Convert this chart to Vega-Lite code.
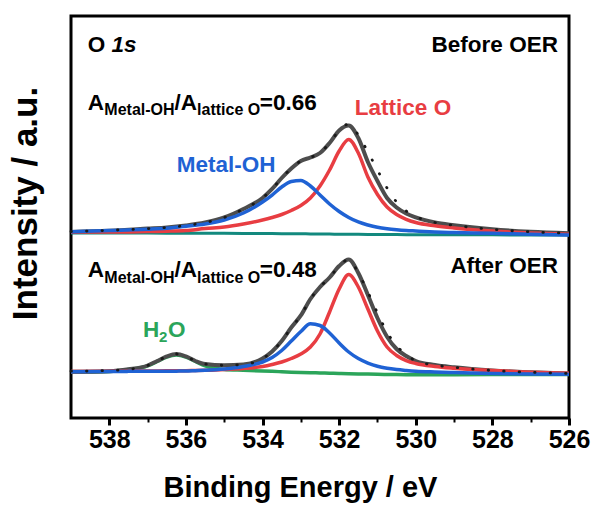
{
  "$schema": "https://vega.github.io/schema/vega-lite/v6.json",
  "width": 498,
  "height": 402,
  "autosize": {"type": "none"},
  "padding": {"left": 71, "top": 16, "right": 24, "bottom": 91},
  "background": "white",
  "config": {
    "font": "Liberation Sans",
    "view": {"stroke": "black", "strokeWidth": 3},
    "axis": {"grid": false},
    "axisX": {
      "domain": false,
      "tickColor": "black",
      "labelFontSize": 25,
      "labelFontWeight": "bold",
      "labelColor": "black",
      "labelPadding": 2,
      "labelFlush": false,
      "labelOverlap": false,
      "labelBound": false,
      "titleFontSize": 29,
      "titleFontWeight": "bold",
      "titleColor": "black",
      "titlePadding": 21,
      "titleX": 229
    },
    "axisY": {
      "labels": false,
      "ticks": false,
      "domain": false,
      "titleFontSize": 35,
      "titleFontWeight": "bold",
      "titleColor": "black",
      "titlePadding": 28,
      "titleY": 187
    }
  },
  "datasets": {
    "spectra": [
      {"panel": "Before OER", "energy": 539, "measured": 46.29, "fit": 46.39, "lattice": 46.27, "metaloh": 46.34, "background": 46.02},
      {"panel": "Before OER", "energy": 538, "measured": 46.58, "fit": 46.69, "lattice": 46.27, "metaloh": 46.62, "background": 46.00},
      {"panel": "Before OER", "energy": 537, "measured": 47.11, "fit": 47.11, "lattice": 46.39, "metaloh": 46.97, "background": 45.99},
      {"panel": "Before OER", "energy": 536.5, "measured": 47.39, "fit": 47.39, "lattice": 46.47, "metaloh": 47.21, "background": 45.98},
      {"panel": "Before OER", "energy": 536, "measured": 47.89, "fit": 47.89, "lattice": 46.64, "metaloh": 47.69, "background": 45.97},
      {"panel": "Before OER", "energy": 535.5, "measured": 48.63, "fit": 48.63, "lattice": 47.14, "metaloh": 48.26, "background": 45.95},
      {"panel": "Before OER", "energy": 535, "measured": 49.88, "fit": 49.88, "lattice": 47.51, "metaloh": 49.25, "background": 45.93},
      {"panel": "Before OER", "energy": 534.5, "measured": 51.99, "fit": 51.99, "lattice": 48.26, "metaloh": 51.00, "background": 45.92},
      {"panel": "Before OER", "energy": 534, "measured": 54.73, "fit": 54.73, "lattice": 49.25, "metaloh": 53.73, "background": 45.90},
      {"panel": "Before OER", "energy": 533.75, "measured": 56.97, "fit": 56.97, "lattice": 49.88, "metaloh": 55.47, "background": 45.88},
      {"panel": "Before OER", "energy": 533.5, "measured": 59.70, "fit": 59.70, "lattice": 50.62, "metaloh": 57.46, "background": 45.86},
      {"panel": "Before OER", "energy": 533.25, "measured": 62.07, "fit": 62.07, "lattice": 51.62, "metaloh": 58.83, "background": 45.84},
      {"panel": "Before OER", "energy": 533, "measured": 63.93, "fit": 63.93, "lattice": 52.86, "metaloh": 59.08, "background": 45.82},
      {"panel": "Before OER", "energy": 532.75, "measured": 64.80, "fit": 64.80, "lattice": 54.73, "metaloh": 57.71, "background": 45.80},
      {"panel": "Before OER", "energy": 532.5, "measured": 65.92, "fit": 65.92, "lattice": 57.71, "metaloh": 55.47, "background": 45.77},
      {"panel": "Before OER", "energy": 532.25, "measured": 68.41, "fit": 68.41, "lattice": 61.69, "metaloh": 53.23, "background": 45.75},
      {"panel": "Before OER", "energy": 532, "measured": 71.52, "fit": 71.52, "lattice": 66.42, "metaloh": 51.37, "background": 45.72},
      {"panel": "Before OER", "energy": 531.75, "measured": 72.76, "fit": 73.13, "lattice": 69.28, "metaloh": 49.88, "background": 45.70},
      {"panel": "Before OER", "energy": 531.5, "measured": 69.65, "fit": 70.40, "lattice": 65.92, "metaloh": 48.76, "background": 45.69},
      {"panel": "Before OER", "energy": 531.25, "measured": 63.68, "fit": 66.17, "lattice": 59.95, "metaloh": 48.01, "background": 45.67},
      {"panel": "Before OER", "energy": 531, "measured": 58.96, "fit": 61.69, "lattice": 55.60, "metaloh": 47.44, "background": 45.65},
      {"panel": "Before OER", "energy": 530.75, "measured": 54.73, "fit": 57.21, "lattice": 52.49, "metaloh": 47.07, "background": 45.64},
      {"panel": "Before OER", "energy": 530.5, "measured": 52.36, "fit": 53.73, "lattice": 50.62, "metaloh": 46.82, "background": 45.63},
      {"panel": "Before OER", "energy": 530.25, "measured": 50.87, "fit": 51.49, "lattice": 49.43, "metaloh": 46.64, "background": 45.61},
      {"panel": "Before OER", "energy": 530, "measured": 49.88, "fit": 50.13, "lattice": 48.63, "metaloh": 46.52, "background": 45.60},
      {"panel": "Before OER", "energy": 529.5, "measured": 48.63, "fit": 48.63, "lattice": 47.81, "metaloh": 46.29, "background": 45.59},
      {"panel": "Before OER", "energy": 529, "measured": 47.94, "fit": 47.94, "lattice": 47.26, "metaloh": 46.14, "background": 45.58},
      {"panel": "Before OER", "energy": 528, "measured": 46.94, "fit": 46.94, "lattice": 46.52, "metaloh": 45.95, "background": 45.56},
      {"panel": "Before OER", "energy": 527, "measured": 46.32, "fit": 46.32, "lattice": 46.02, "metaloh": 45.72, "background": 45.54},
      {"panel": "Before OER", "energy": 526, "measured": 45.95, "fit": 45.95, "lattice": 45.70, "metaloh": 45.52, "background": 45.52},

      {"panel": "After OER", "energy": 539, "measured": 11.48, "fit": 11.64, "lattice": 11.57, "metaloh": 11.52, "h2o": 11.42},
      {"panel": "After OER", "energy": 538, "measured": 11.62, "fit": 11.82, "lattice": 11.62, "metaloh": 11.57, "h2o": 11.58},
      {"panel": "After OER", "energy": 537.5, "measured": 12.11, "fit": 12.11, "lattice": 11.66, "metaloh": 11.60, "h2o": 12.07},
      {"panel": "After OER", "energy": 537, "measured": 13.06, "fit": 13.06, "lattice": 11.69, "metaloh": 11.62, "h2o": 12.94},
      {"panel": "After OER", "energy": 536.75, "measured": 14.18, "fit": 14.18, "lattice": 11.71, "metaloh": 11.63, "h2o": 14.06},
      {"panel": "After OER", "energy": 536.5, "measured": 15.30, "fit": 15.30, "lattice": 11.73, "metaloh": 11.64, "h2o": 15.17},
      {"panel": "After OER", "energy": 536.25, "measured": 15.92, "fit": 15.92, "lattice": 11.75, "metaloh": 11.66, "h2o": 15.67},
      {"panel": "After OER", "energy": 536, "measured": 15.30, "fit": 15.30, "lattice": 11.77, "metaloh": 11.69, "h2o": 15.17},
      {"panel": "After OER", "energy": 535.75, "measured": 14.18, "fit": 14.18, "lattice": 11.82, "metaloh": 11.78, "h2o": 14.06},
      {"panel": "After OER", "energy": 535.5, "measured": 13.43, "fit": 13.43, "lattice": 11.87, "metaloh": 11.87, "h2o": 12.94},
      {"panel": "After OER", "energy": 535, "measured": 13.11, "fit": 13.11, "lattice": 12.07, "metaloh": 12.19, "h2o": 12.07},
      {"panel": "After OER", "energy": 534.5, "measured": 13.31, "fit": 13.31, "lattice": 12.31, "metaloh": 12.81, "h2o": 11.87},
      {"panel": "After OER", "energy": 534, "measured": 14.80, "fit": 14.80, "lattice": 12.81, "metaloh": 13.93, "h2o": 11.69},
      {"panel": "After OER", "energy": 533.75, "measured": 16.54, "fit": 16.54, "lattice": 13.31, "metaloh": 15.05, "h2o": 11.60},
      {"panel": "After OER", "energy": 533.5, "measured": 19.15, "fit": 19.15, "lattice": 13.93, "metaloh": 16.79, "h2o": 11.51},
      {"panel": "After OER", "energy": 533.25, "measured": 22.51, "fit": 22.51, "lattice": 14.80, "metaloh": 19.15, "h2o": 11.41},
      {"panel": "After OER", "energy": 533, "measured": 25.50, "fit": 25.50, "lattice": 15.92, "metaloh": 21.52, "h2o": 11.32},
      {"panel": "After OER", "energy": 532.75, "measured": 29.60, "fit": 29.60, "lattice": 17.66, "metaloh": 23.43, "h2o": 11.26},
      {"panel": "After OER", "energy": 532.5, "measured": 32.59, "fit": 32.59, "lattice": 20.90, "metaloh": 23.01, "h2o": 11.20},
      {"panel": "After OER", "energy": 532.25, "measured": 34.95, "fit": 34.95, "lattice": 26.37, "metaloh": 21.14, "h2o": 11.13},
      {"panel": "After OER", "energy": 532, "measured": 37.81, "fit": 37.81, "lattice": 32.09, "metaloh": 18.66, "h2o": 11.07},
      {"panel": "After OER", "energy": 531.75, "measured": 39.43, "fit": 39.43, "lattice": 35.70, "metaloh": 16.42, "h2o": 11.02},
      {"panel": "After OER", "energy": 531.5, "measured": 36.07, "fit": 36.07, "lattice": 32.59, "metaloh": 14.80, "h2o": 10.97},
      {"panel": "After OER", "energy": 531.25, "measured": 30.60, "fit": 31.34, "lattice": 27.11, "metaloh": 13.68, "h2o": 10.92},
      {"panel": "After OER", "energy": 531, "measured": 24.88, "fit": 26.12, "lattice": 21.64, "metaloh": 12.86, "h2o": 10.87},
      {"panel": "After OER", "energy": 530.75, "measured": 20.22, "fit": 21.39, "lattice": 17.66, "metaloh": 12.36, "h2o": 10.84},
      {"panel": "After OER", "energy": 530.5, "measured": 17.16, "fit": 17.91, "lattice": 15.55, "metaloh": 12.04, "h2o": 10.81},
      {"panel": "After OER", "energy": 530.25, "measured": 15.42, "fit": 15.92, "lattice": 14.30, "metaloh": 11.82, "h2o": 10.78},
      {"panel": "After OER", "energy": 530, "measured": 14.18, "fit": 14.18, "lattice": 13.56, "metaloh": 11.64, "h2o": 10.75},
      {"panel": "After OER", "energy": 529.5, "measured": 13.18, "fit": 13.18, "lattice": 12.81, "metaloh": 11.44, "h2o": 10.76},
      {"panel": "After OER", "energy": 529, "measured": 12.61, "fit": 12.61, "lattice": 12.36, "metaloh": 11.29, "h2o": 10.77},
      {"panel": "After OER", "energy": 528, "measured": 11.82, "fit": 11.82, "lattice": 11.79, "metaloh": 11.09, "h2o": 10.80},
      {"panel": "After OER", "energy": 527, "measured": 11.37, "fit": 11.37, "lattice": 11.39, "metaloh": 10.95, "h2o": 10.81},
      {"panel": "After OER", "energy": 526, "measured": 11.07, "fit": 11.07, "lattice": 11.12, "metaloh": 10.85, "h2o": 10.82}
    ],
    "labels": [
      {"text": "O", "energy": 538.56, "intensity": 91.1, "role": "element"},
      {"text": "1s", "energy": 537.94, "intensity": 91.1, "role": "orbital"},
      {"text": "Before OER", "energy": 526.29, "intensity": 91.1, "role": "condition"},
      {"text": "After OER", "energy": 526.29, "intensity": 36.0, "role": "condition"},
      {"text": "A", "energy": 538.56, "intensity": 76.6, "role": "ratio"},
      {"text": "Metal-OH", "energy": 538.13, "intensity": 75.4, "role": "ratio-sub"},
      {"text": "/A", "energy": 536.30, "intensity": 76.6, "role": "ratio"},
      {"text": "lattice O", "energy": 535.71, "intensity": 75.4, "role": "ratio-sub"},
      {"text": "=0.66", "energy": 534.07, "intensity": 76.6, "role": "ratio"},
      {"text": "A", "energy": 538.56, "intensity": 35.0, "role": "ratio"},
      {"text": "Metal-OH", "energy": 538.13, "intensity": 33.5, "role": "ratio-sub"},
      {"text": "/A", "energy": 536.30, "intensity": 35.0, "role": "ratio"},
      {"text": "lattice O", "energy": 535.71, "intensity": 33.5, "role": "ratio-sub"},
      {"text": "=0.48", "energy": 534.07, "intensity": 35.0, "role": "ratio"},
      {"text": "Lattice O", "energy": 531.59, "intensity": 75.4, "role": "lattice"},
      {"text": "Metal-OH", "energy": 536.24, "intensity": 61.3, "role": "metaloh"},
      {"text": "H", "energy": 537.12, "intensity": 20.1, "role": "h2o"},
      {"text": "2", "energy": 536.70, "intensity": 19.0, "role": "h2o-sub"},
      {"text": "O", "energy": 536.47, "intensity": 20.1, "role": "h2o"}
    ]
  },
  "encoding": {
    "x": {
      "field": "energy",
      "type": "quantitative",
      "title": "Binding Energy / eV",
      "scale": {"domain": [526, 539], "reverse": true, "nice": false, "zero": false},
      "axis": {
        "values": [526, 527, 528, 529, 530, 531, 532, 533, 534, 535, 536, 537, 538],
        "labelExpr": "datum.value % 2 === 0 ? datum.label : ''",
        "tickSize": {"condition": {"test": "datum.value % 2 === 0", "value": 7}, "value": 4},
        "tickWidth": {"condition": {"test": "datum.value % 2 === 0", "value": 3}, "value": 2}
      }
    }
  },
  "layer": [
    {
      "data": {"name": "spectra"},
      "transform": [{"filter": "datum.panel === 'Before OER'"}],
      "mark": {"type": "line", "interpolate": "monotone", "color": "#13897e", "strokeWidth": 3},
      "encoding": {
        "y": {"field": "background", "type": "quantitative", "title": "Intensity / a.u.", "scale": {"domain": [0, 100], "nice": false, "zero": false}}
      }
    },
    {
      "data": {"name": "spectra"},
      "transform": [{"filter": "datum.panel === 'After OER'"}],
      "mark": {"type": "line", "interpolate": "monotone", "color": "#2ba55a", "strokeWidth": 3.5},
      "encoding": {
        "y": {"field": "h2o", "type": "quantitative", "title": "Intensity / a.u.", "scale": {"domain": [0, 100], "nice": false, "zero": false}}
      }
    },
    {
      "data": {"name": "spectra"},
      "mark": {"type": "line", "interpolate": "monotone", "color": "#4d4d4d", "strokeWidth": 4},
      "encoding": {
        "y": {"field": "measured", "type": "quantitative", "title": "Intensity / a.u.", "scale": {"domain": [0, 100], "nice": false, "zero": false}},
        "detail": {"field": "panel"}
      }
    },
    {
      "data": {"name": "spectra"},
      "mark": {"type": "line", "interpolate": "monotone", "color": "#e83d42", "strokeWidth": 3.5},
      "encoding": {
        "y": {"field": "lattice", "type": "quantitative", "title": "Intensity / a.u.", "scale": {"domain": [0, 100], "nice": false, "zero": false}},
        "detail": {"field": "panel"}
      }
    },
    {
      "data": {"name": "spectra"},
      "mark": {"type": "line", "interpolate": "monotone", "color": "#1f62d4", "strokeWidth": 3.5},
      "encoding": {
        "y": {"field": "metaloh", "type": "quantitative", "title": "Intensity / a.u.", "scale": {"domain": [0, 100], "nice": false, "zero": false}},
        "detail": {"field": "panel"}
      }
    },
    {
      "data": {"name": "spectra"},
      "mark": {"type": "line", "interpolate": "monotone", "color": "#1a1a1a", "strokeWidth": 2.8, "strokeDash": [0.5, 15], "strokeCap": "round"},
      "encoding": {
        "y": {"field": "fit", "type": "quantitative", "title": "Intensity / a.u.", "scale": {"domain": [0, 100], "nice": false, "zero": false}},
        "detail": {"field": "panel"}
      }
    },
    {
      "data": {"name": "labels"},
      "transform": [{"filter": "datum.role === 'element' || datum.role === 'ratio'"}],
      "mark": {"type": "text", "align": "left", "baseline": "alphabetic", "fontSize": 22.5, "fontWeight": "bold", "color": "black"},
      "encoding": {
        "y": {"field": "intensity", "type": "quantitative", "title": "Intensity / a.u.", "scale": {"domain": [0, 100], "nice": false, "zero": false}},
        "text": {"field": "text"}
      }
    },
    {
      "data": {"name": "labels"},
      "transform": [{"filter": "datum.role === 'orbital'"}],
      "mark": {"type": "text", "align": "left", "baseline": "alphabetic", "fontSize": 22.5, "fontWeight": "bold", "fontStyle": "italic", "color": "black"},
      "encoding": {
        "y": {"field": "intensity", "type": "quantitative", "title": "Intensity / a.u.", "scale": {"domain": [0, 100], "nice": false, "zero": false}},
        "text": {"field": "text"}
      }
    },
    {
      "data": {"name": "labels"},
      "transform": [{"filter": "datum.role === 'condition'"}],
      "mark": {"type": "text", "align": "right", "baseline": "alphabetic", "fontSize": 22.5, "fontWeight": "bold", "color": "black"},
      "encoding": {
        "y": {"field": "intensity", "type": "quantitative", "title": "Intensity / a.u.", "scale": {"domain": [0, 100], "nice": false, "zero": false}},
        "text": {"field": "text"}
      }
    },
    {
      "data": {"name": "labels"},
      "transform": [{"filter": "datum.role === 'ratio-sub'"}],
      "mark": {"type": "text", "align": "left", "baseline": "alphabetic", "fontSize": 16, "fontWeight": "bold", "color": "black"},
      "encoding": {
        "y": {"field": "intensity", "type": "quantitative", "title": "Intensity / a.u.", "scale": {"domain": [0, 100], "nice": false, "zero": false}},
        "text": {"field": "text"}
      }
    },
    {
      "data": {"name": "labels"},
      "transform": [{"filter": "datum.role === 'lattice'"}],
      "mark": {"type": "text", "align": "left", "baseline": "alphabetic", "fontSize": 22.5, "fontWeight": "bold", "color": "#e83d42"},
      "encoding": {
        "y": {"field": "intensity", "type": "quantitative", "title": "Intensity / a.u.", "scale": {"domain": [0, 100], "nice": false, "zero": false}},
        "text": {"field": "text"}
      }
    },
    {
      "data": {"name": "labels"},
      "transform": [{"filter": "datum.role === 'metaloh'"}],
      "mark": {"type": "text", "align": "left", "baseline": "alphabetic", "fontSize": 22.5, "fontWeight": "bold", "color": "#1f62d4"},
      "encoding": {
        "y": {"field": "intensity", "type": "quantitative", "title": "Intensity / a.u.", "scale": {"domain": [0, 100], "nice": false, "zero": false}},
        "text": {"field": "text"}
      }
    },
    {
      "data": {"name": "labels"},
      "transform": [{"filter": "datum.role === 'h2o'"}],
      "mark": {"type": "text", "align": "left", "baseline": "alphabetic", "fontSize": 22.5, "fontWeight": "bold", "color": "#2ba55a"},
      "encoding": {
        "y": {"field": "intensity", "type": "quantitative", "title": "Intensity / a.u.", "scale": {"domain": [0, 100], "nice": false, "zero": false}},
        "text": {"field": "text"}
      }
    },
    {
      "data": {"name": "labels"},
      "transform": [{"filter": "datum.role === 'h2o-sub'"}],
      "mark": {"type": "text", "align": "left", "baseline": "alphabetic", "fontSize": 15, "fontWeight": "bold", "color": "#2ba55a"},
      "encoding": {
        "y": {"field": "intensity", "type": "quantitative", "title": "Intensity / a.u.", "scale": {"domain": [0, 100], "nice": false, "zero": false}},
        "text": {"field": "text"}
      }
    }
  ]
}
